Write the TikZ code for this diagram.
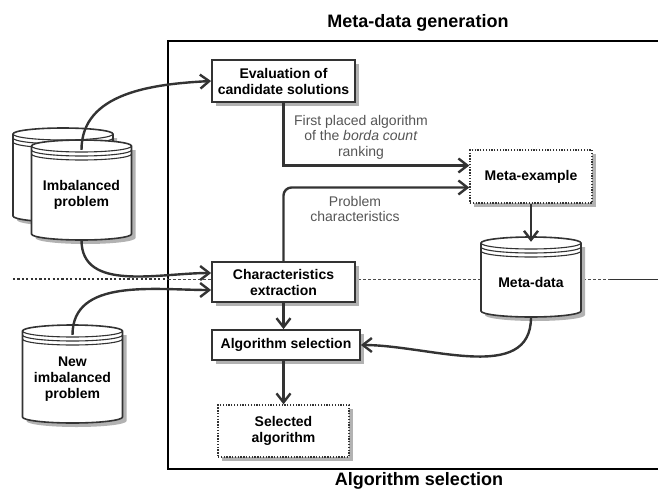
\documentclass[tikz,border=0pt]{standalone}
\usepackage{fontspec}
\setmainfont{Liberation Sans}
\usetikzlibrary{arrows.meta, positioning, shadows}
\definecolor{darkline}{HTML}{333333}
\definecolor{notegray}{HTML}{555555}
\newcommand{\boxfont}{\fontsize{14}{16}\selectfont}

\tikzset{
  box/.style={draw=darkline, line width=1.8pt, fill=white, align=center, font=\boxfont\bfseries, inner sep=2pt,
    drop shadow={shadow xshift=4pt, shadow yshift=-4pt, fill=black!30, opacity=1}},
  dotbox/.style={box, line width=1.3pt, dash pattern=on 1.3pt off 1.5pt},
  flow/.style={draw=darkline, line width=2.4pt, -{Straight Barb[length=9pt,width=14pt]}},
  note/.style={text=notegray, align=center, font=\fontsize{14}{15.5}\selectfont},
  title/.style={font=\fontsize{18}{20}\selectfont\bfseries, anchor=base},
  dbtext/.style={minimum width=100pt, inner sep=0pt, align=center, font=\boxfont\bfseries},
  dbline/.style={draw=darkline, line width=1.6pt},
}

% database cylinder: name, x, y (centre), height, text
\newcommand{\dbcyl}[5]{%
  \begin{scope}[shift={(#2,#3)}]
    \fill[black!30] (-46,{#4/2-10}) -- (-46,{-#4/2+2}) arc[start angle=180, end angle=360, x radius=50pt, y radius=6pt]
      -- (54,{#4/2-10}) -- cycle;
    \draw[dbline, fill=white] (-50,{#4/2-6}) -- (-50,{-#4/2+6}) arc[start angle=180, end angle=360, x radius=50pt, y radius=6pt]
      -- (50,{#4/2-6}) arc[start angle=0, end angle=180, x radius=50pt, y radius=6pt] -- cycle;
    \foreach \d in {6,10,14}
      \draw[dbline, line width=1.1pt] (-50,{#4/2-\d}) arc[start angle=180, end angle=360, x radius=50pt, y radius=6pt];
  \end{scope}
  \node[dbtext, minimum height={#4-10}] (#1) at (#2,{#3-5}) {#5};
}

\begin{document}
\begin{tikzpicture}[x=1pt, y=1pt]
\useasboundingbox (0,0) rectangle (658,-490);

% frame and divider
\draw[line width=1.1pt] (658,-41) -- (168,-41) -- (168,-469) -- (658,-469);
\draw[darkline, line width=2.2pt, dash pattern=on 2.2pt off 2.2pt] (13,-279) -- (168,-279);
\draw[black!70, line width=0.7pt, dash pattern=on 3pt off 2pt] (168,-279) -- (610,-279);
\draw[black!80, line width=0.9pt] (610,-279) -- (658,-279);

\node[title] (gentitle) at (418,-27) {Meta-data generation};
\node[title] (seltitle) at (419,-485.5) {Algorithm selection};

% boxes
\node[box, minimum width=143pt, minimum height=42pt] (eval) at (283.5,-81) {Evaluation of\\candidate solutions};
\node[dotbox, minimum width=122pt, minimum height=53pt] (metaex) at (531,-176.5) {Meta-example};
\node[box, minimum width=143pt, minimum height=40pt] (charext) at (283.5,-282) {Characteristics\\extraction};
\node[box, minimum width=148pt, minimum height=30pt] (algsel) at (286,-345) {Algorithm selection};
\node[dotbox, minimum width=131pt, minimum height=52pt] (selalg) at (283.5,-431) {Selected\\algorithm};

% databases
\dbcyl{imbback}{63}{-175}{94}{}
\dbcyl{imb}{81.5}{-190}{100}{Imbalanced\\problem}
\dbcyl{newimb}{72.5}{-374}{98}{New\\imbalanced\\problem}
\dbcyl{metadata}{531}{-277}{80}{Meta-data}

\node[note] (rankinfo) at (361,-137) {First placed algorithm\\of the \textit{borda count}\\ranking};
\node[note] (charinfo) at (355,-209) {Problem\\characteristics};

% connectors
\draw[flow] (imb.north) to[out=90, in=183] (eval.west);
\draw[flow] (imb.south) to[out=-90, in=180] ([yshift=9pt]charext.west);
\draw[flow] (newimb.north) to[out=90, in=180] ([yshift=-8pt]charext.west);
\draw[flow] (eval.south) |- ([yshift=11pt]metaex.west);
\draw[flow, rounded corners=8pt] (charext.north) |- ([yshift=-11pt]metaex.west);
\draw[flow] (metaex.south) -- ([yshift=5pt]metadata.north);
\draw[flow] (charext.south) -- (charext.south |- algsel.north);
\draw[flow] (metadata.south) to[out=-90, in=0] (algsel.east);
\draw[flow] (algsel.south -| selalg.north) -- (selalg.north);
\end{tikzpicture}
\end{document}
